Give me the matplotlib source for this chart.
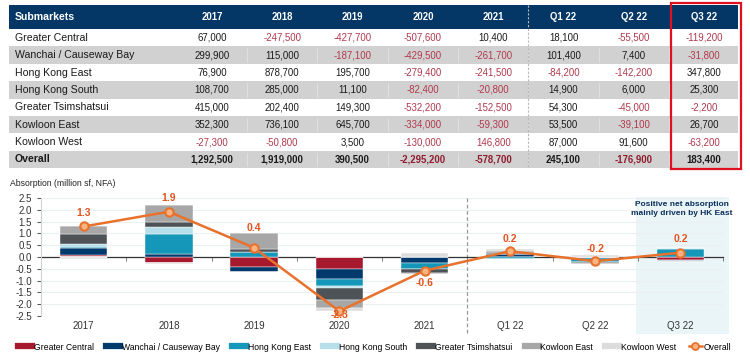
import numpy as np
import matplotlib
matplotlib.use("Agg")
import matplotlib.pyplot as plt
from matplotlib.patches import Rectangle
from matplotlib.lines import Line2D
import matplotlib.transforms as mtransforms

plt.rcParams['font.family'] = ['Liberation Sans', 'DejaVu Sans']

# ---- data (sq ft, NFA) ----
periods = ["2017", "2018", "2019", "2020", "2021", "Q1 22", "Q2 22", "Q3 22"]
submarkets = ["Greater Central", "Wanchai / Causeway Bay", "Hong Kong East",
              "Hong Kong South", "Greater Tsimshatsui", "Kowloon East",
              "Kowloon West"]

greater_central = [67000, -247500, -427700, -507600, 10400, 18100, -55500, -119200]
wanchai_cwb = [299900, 115000, -187100, -429500, -261700, 101400, 7400, -31800]
hk_east = [76900, 878700, 195700, -279400, -241500, -84200, -142200, 347800]
hk_south = [108700, 285000, 11100, -82400, -20800, 14900, 6000, 25300]
greater_tst = [415000, 202400, 149300, -532200, -152500, 54300, -45000, -2200]
kowloon_east = [352300, 736100, 645700, -334000, -59300, 53500, -39100, 26700]
kowloon_west = [-27300, -50800, 3500, -130000, 146800, 87000, 91600, -63200]
overall = [1292500, 1919000, 390500, -2295200, -578700, 245100, -176900, 183400]

series = [greater_central, wanchai_cwb, hk_east, hk_south,
          greater_tst, kowloon_east, kowloon_west]
colors = ["#A6192E", "#003A6C", "#1497B8", "#B7DFE9",
          "#4E5357", "#A7A7A7", "#DCDCDC"]

# cells shown in red in the source table although positive
red_cells = [("Kowloon West", "2021")]

navy = "#053766"
neg_red = "#B0384C"

fig = plt.figure(figsize=(7.5, 3.58), dpi=100)

###########
#  Table  #
###########
tax = fig.add_axes([0, 0, 1, 1])
tax.set_xlim(0, 750)
tax.set_ylim(358, 0)
tax.axis('off')

left, right = 9, 738
head_top, head_h, row_h = 5, 24, 17.4
col_x = 212 + 70.3 * np.arange(len(periods))
fs_name = 7.6
fs_num = 6.9

tax.add_patch(Rectangle((left, head_top), right - left, head_h, color=navy, lw=0))
tax.text(15, head_top + head_h / 2, "Submarkets", color="white", fontsize=fs_name,
         fontweight="bold", va="center", ha="left")
for x, p in zip(col_x, periods):
    tax.text(x, head_top + head_h / 2, p, color="white", fontsize=fs_num,
             fontweight="bold", va="center", ha="center")

rows = submarkets + ["Overall"]
values = series + [overall]
for i, (name, vals) in enumerate(zip(rows, values)):
    y0 = head_top + head_h + i * row_h
    if i % 2 == 1:
        tax.add_patch(Rectangle((left, y0), right - left, row_h, color="#D2D1D1", lw=0))
        for bx in col_x[:-1] + 35:
            tax.plot([bx, bx], [y0 + 2, y0 + row_h - 2], color="#ECECEC", lw=0.4)
    bold = name == "Overall"
    tax.text(15, y0 + row_h / 2, name, fontsize=fs_name, va="center", ha="left",
             color="#1a1a1a", fontweight="bold" if bold else "normal")
    for x, p, v in zip(col_x, periods, vals):
        red = v < 0 or (name, p) in red_cells
        c = ("#8E1B2E" if bold else neg_red) if red else "#1a1a1a"
        tax.text(x, y0 + row_h / 2, f"{v:,}", fontsize=fs_num, va="center",
                 ha="center", color=c, fontweight="bold" if bold else "normal")

table_bottom = head_top + head_h + len(rows) * row_h
sep_x = (col_x[4] + col_x[5]) / 2
tax.plot([sep_x, sep_x], [head_top, table_bottom], color="#B8B8B8", lw=0.8,
         ls=(0, (2, 1.5)))
tax.add_patch(Rectangle((col_x[7] - 33, 3), 70, table_bottom - 2, fill=False,
                        ec="#E0101E", lw=1.6))

###########
#  Chart  #
###########
ax = fig.add_axes([41 / 750, 1 - 316 / 358, (723 - 41) / 750, (316 - 198) / 358])
x = np.arange(len(periods))
pos_base = np.zeros(len(periods))
neg_base = np.zeros(len(periods))
width = 0.56
for name, vals, c in zip(submarkets, series, colors):
    v = np.array(vals) / 1e6
    pos = np.clip(v, 0, None)
    neg = np.clip(v, None, 0)
    ax.bar(x, pos, width, bottom=pos_base, color=c, lw=0.3, ec="white", zorder=2)
    ax.bar(x, neg, width, bottom=neg_base, color=c, lw=0.3, ec="white", zorder=2)
    pos_base += pos
    neg_base += neg

ov = np.array(overall) / 1e6
line_c = "#E8712C"
ax.plot(x, ov, color=line_c, lw=1.8, marker="o", ms=6, mfc="#F7B483",
        mec=line_c, mew=1.5, zorder=5)
offsets = [10, 10, 14, -3, -9, 9, 9, 10]
for xi, v, off in zip(x, ov, offsets):
    ax.annotate(f"{v:.1f}", (xi, v), xytext=(0, off), textcoords="offset points",
                ha="center", va="center", color="#E2531D", fontweight="bold",
                fontsize=7.5, zorder=6)

ax.set_xlim(-0.5, len(periods) - 0.5)
ax.set_ylim(-2.5, 2.5)
ax.set_yticks(np.arange(-2.5, 2.51, 0.5))
ax.set_yticklabels([f"{t:.1f}" for t in np.arange(-2.5, 2.51, 0.5)])
ax.tick_params(axis='y', labelsize=7, colors="#333333", length=3, width=0.6)
ax.yaxis.grid(True, color="#EAF0F2", lw=0.8)
ax.set_axisbelow(True)

for s in ["top", "right"]:
    ax.spines[s].set_visible(False)
ax.spines['left'].set_color("#D0D0D0")
ax.spines['left'].set_linewidth(0.8)
ax.spines['bottom'].set_position(('data', 0))
ax.spines['bottom'].set_color("#333333")
ax.spines['bottom'].set_linewidth(0.9)
ax.spines['bottom'].set_zorder(1.5)
ax.set_xticks(x + 0.5)
ax.set_xticklabels([])
ax.tick_params(axis='x', length=3, width=0.6, color="#666666", direction="out")

trans = mtransforms.blended_transform_factory(ax.transData, ax.transAxes)
for xi, p in zip(x, periods):
    ax.text(xi, -0.085, p, transform=trans, ha="center", va="center",
            fontsize=7, color="#333333")

# shaded Q3 22 panel
ax.add_patch(Rectangle((6.48, -0.153), 1.09, 1.161, transform=trans,
                       color="#EAF5F8", lw=0, zorder=0, clip_on=False))
ax.plot([4.5, 4.5], [-0.14, 1.01], transform=trans, color="#999999", lw=0.9,
        ls=(0, (3, 2)), clip_on=False, zorder=1)
ax.text(7.02, 0.905, "Positive net absorption\nmainly driven by HK East",
        transform=trans, ha="center", va="center", fontsize=6, fontweight="bold",
        color="#0B2F5B", linespacing=1.3)

fig.text(10 / 750, 1 - 183 / 358, "Absorption (million sf, NFA)", fontsize=6.2,
         color="#222222", ha="left", va="center")

handles = [Line2D([0], [0], color=c, lw=4.5) for c in colors]
handles.append(Line2D([0], [0], color=line_c, lw=1.8, marker="o", ms=5,
                      mfc="#F7B483", mec=line_c, mew=1.3))
fig.legend(handles, submarkets + ["Overall"], loc="center",
           bbox_to_anchor=(0.5, 1 - 347 / 358), ncol=8, frameon=False,
           fontsize=6.2, handlelength=1.6, handletextpad=0.2, columnspacing=1.45)

fig.savefig("out.png", dpi=100)
